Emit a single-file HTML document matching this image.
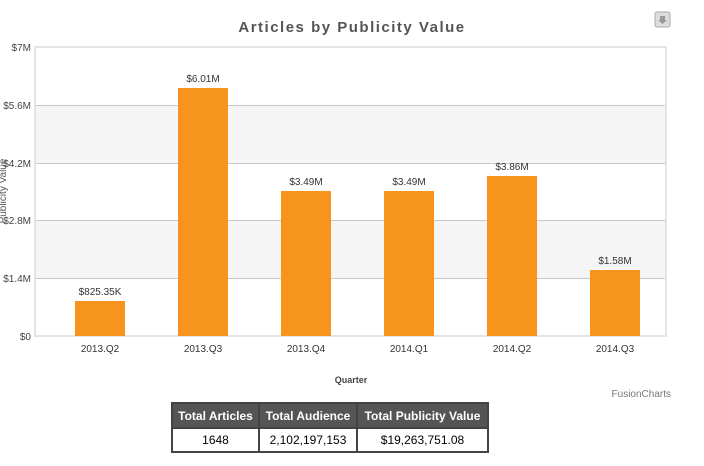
<!DOCTYPE html>
<html><head><style>
body{margin:0;width:704px;height:466px;background:#fff;position:relative;font-family:"Liberation Sans",sans-serif;overflow:hidden}
table{position:absolute;left:171px;top:402px;border-collapse:collapse;font-size:12px}
td,th{border:2px solid #444;text-align:center;padding:0}
th{background:#555;color:#fff;font-weight:bold;height:23px}
td{height:22px;color:#000}
</style></head><body>
<svg width="704" height="466" style="position:absolute;left:0;top:0" font-family="Liberation Sans, sans-serif">
<rect x="35" y="105" width="631" height="58" fill="#f5f5f5"/>
<rect x="35" y="220" width="631" height="58" fill="#f5f5f5"/>
<g stroke="#c8c8c8" stroke-width="1">
<line x1="35" y1="105.5" x2="666" y2="105.5"/><line x1="35" y1="163.5" x2="666" y2="163.5"/>
<line x1="35" y1="220.5" x2="666" y2="220.5"/><line x1="35" y1="278.5" x2="666" y2="278.5"/>
</g>
<rect x="35" y="47" width="631" height="289" fill="none" stroke="#e4e4e4" stroke-width="2"/>
<text x="352" y="32" text-anchor="middle" font-size="15" font-weight="bold" fill="#555" letter-spacing="1.5">Articles by Publicity Value</text>
<rect x="655" y="12" width="15" height="15" rx="2" fill="#ddd" stroke="#aaa"/>
<path d="M660 16h5v4h2l-4.5 4-4.5-4h2z" fill="#999"/>
<g font-size="10" fill="#444" text-anchor="end">
<text x="31" y="51">$7M</text><text x="31" y="109">$5.6M</text><text x="31" y="167">$4.2M</text>
<text x="31" y="224">$2.8M</text><text x="31" y="282">$1.4M</text><text x="31" y="340">$0</text>
</g>
<text transform="translate(6,191) rotate(-90)" text-anchor="middle" font-size="10" fill="#555">Publicity Value</text>
<g fill="#f7941e">
<rect x="75" y="301" width="50" height="35"/><rect x="178" y="88" width="50" height="248"/>
<rect x="281" y="191" width="50" height="145"/><rect x="384" y="191" width="50" height="145"/>
<rect x="487" y="176" width="50" height="160"/><rect x="590" y="270" width="50" height="66"/>
</g>
<g font-size="10" fill="#333" text-anchor="middle">
<text x="100" y="295">$825.35K</text><text x="203" y="82">$6.01M</text><text x="306" y="185">$3.49M</text>
<text x="409" y="185">$3.49M</text><text x="512" y="170">$3.86M</text><text x="615" y="264">$1.58M</text>
<text x="100" y="352">2013.Q2</text><text x="203" y="352">2013.Q3</text><text x="306" y="352">2013.Q4</text>
<text x="409" y="352">2014.Q1</text><text x="512" y="352">2014.Q2</text><text x="615" y="352">2014.Q3</text>
</g>
<text x="351" y="383" text-anchor="middle" font-size="9" font-weight="bold" fill="#444">Quarter</text>
<text x="671" y="397" text-anchor="end" font-size="10" fill="#777">FusionCharts</text>
</svg>
<table>
<tr><th style="width:85px">Total Articles</th><th style="width:96px">Total Audience</th><th style="width:129px">Total Publicity Value</th></tr>
<tr><td>1648</td><td>2,102,197,153</td><td>$19,263,751.08</td></tr>
</table>
</body></html>
